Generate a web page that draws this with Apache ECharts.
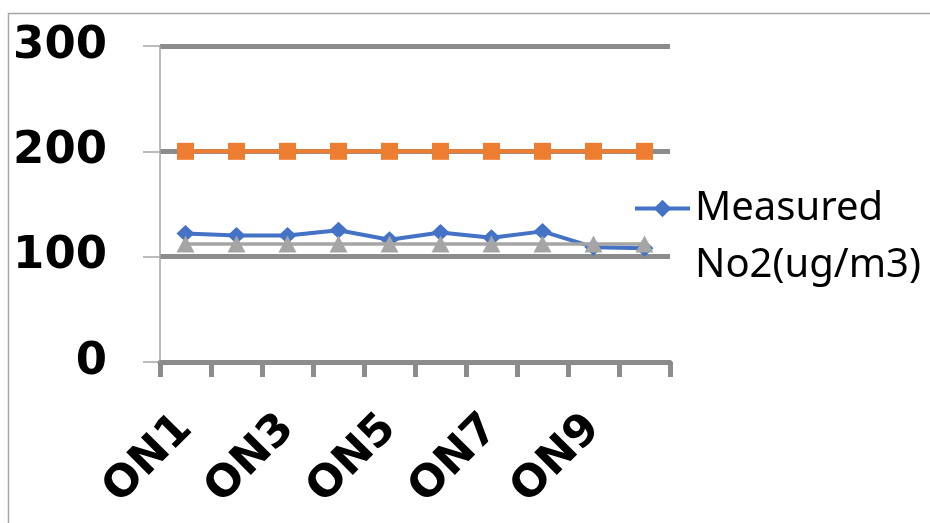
<!DOCTYPE html>
<html>
<head>
<meta charset="utf-8">
<script src="https://cdn.jsdelivr.net/npm/echarts@6/dist/echarts.min.js"></script>
<style>
html,body{margin:0;padding:0;background:#fff;}
#chart{width:930px;height:523px;}
</style>
</head>
<body>
<div id="chart"></div>
<script>
const categories = ['ON1','ON2','ON3','ON4','ON5','ON6','ON7','ON8','ON9','ON10'];
const measuredName = 'Measured No2(ug/m3)';
const measured = [122, 120, 120, 125, 116, 123, 118, 124, 109, 108];
const standardName = 'Standard';
const standard = [200, 200, 200, 200, 200, 200, 200, 200, 200, 200];
const otherName = 'Average';
const other = [112, 112, 112, 112, 112, 112, 112, 112, 112, 112];
const yTicks = [0, 100, 200, 300];

const chart = echarts.init(document.getElementById('chart'), null, {renderer: 'canvas'});
chart.setOption({
  animation: false,
  backgroundColor: '#ffffff',
  graphic: [{
    type: 'rect',
    shape: {x: 8.5, y: 13.5, width: 1000, height: 1000},
    style: {fill: 'none', stroke: '#a6a6a6', lineWidth: 1.5},
    silent: true, z: -10
  }],
  grid: {left: 160, right: 260, top: 46, bottom: 161, containLabel: false},
  legend: {
    data: [measuredName],
    left: 633, top: 123,
    orient: 'vertical',
    padding: 0,
    itemWidth: 55, itemHeight: 22, itemGap: 5,
    lineStyle: {width: 4},
    formatter: () => '\nMeasured\nNo2(ug/m3)',
    textStyle: {fontFamily: 'Noto Sans', fontSize: 40, color: '#000', lineHeight: 57}
  },
  xAxis: {
    type: 'category',
    data: categories,
    boundaryGap: true,
    axisLine: {show: true, lineStyle: {color: '#8c8c8c', width: 5}},
    axisTick: {show: true, interval: 0, length: 15, lineStyle: {color: '#8c8c8c', width: 5}},
    axisLabel: {interval: 1, rotate: 45, margin: 60, fontFamily: 'DejaVu Sans', fontWeight: 'bold', fontSize: 44, color: '#000'},
    splitLine: {show: false}
  },
  yAxis: {
    type: 'value',
    min: yTicks[0], max: yTicks[yTicks.length - 1], interval: 100,
    axisLine: {show: true, lineStyle: {color: '#a6a6a6', width: 1.5}},
    axisTick: {show: true, length: 17, lineStyle: {color: '#a6a6a6', width: 1.5}},
    axisLabel: {margin: 53, fontFamily: 'DejaVu Sans', fontWeight: 'bold', fontSize: 45, color: '#000'},
    splitLine: {show: true, lineStyle: {color: '#8c8c8c', width: 5}}
  },
  series: [
    {name: measuredName, type: 'line', data: measured, symbol: 'diamond', symbolSize: [18, 17],
     itemStyle: {color: '#4472C4'}, lineStyle: {color: '#4472C4', width: 4}, z: 3},
    {name: standardName, type: 'line', data: standard, symbol: 'rect', symbolSize: 17,
     itemStyle: {color: '#ED7D31'}, lineStyle: {color: '#ED7D31', width: 4}, z: 4},
    {name: otherName, type: 'line', data: other, symbol: 'triangle', symbolSize: [18, 17],
     itemStyle: {color: '#A5A5A5'}, lineStyle: {color: '#A5A5A5', width: 3.5}, z: 5}
  ]
});
</script>
</body>
</html>
